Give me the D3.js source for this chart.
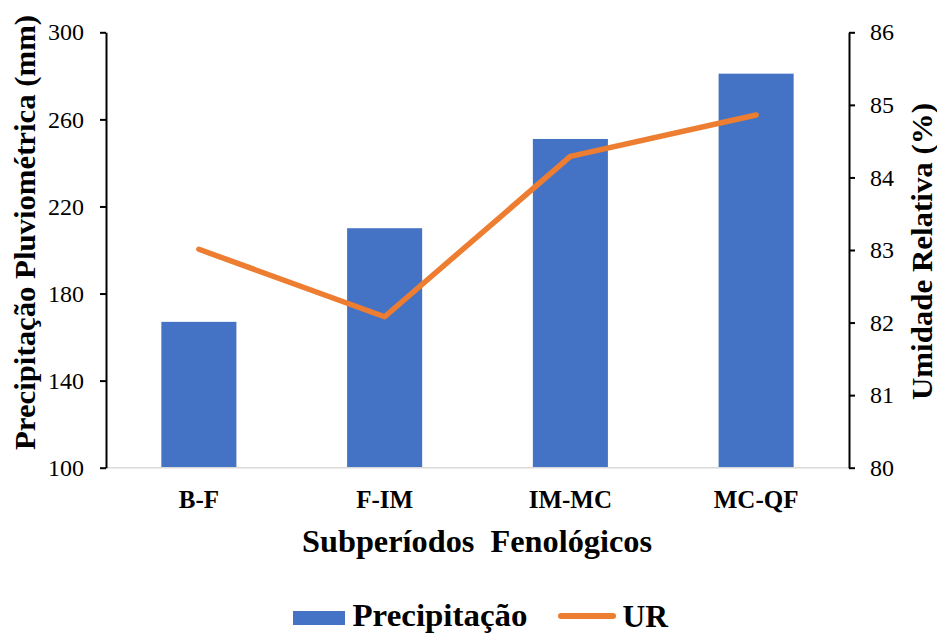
<!DOCTYPE html>
<html>
<head>
<meta charset="utf-8">
<script src="https://cdn.jsdelivr.net/npm/d3@7"></script>
<style>
  html, body { margin: 0; padding: 0; background: #fff; }
</style>
</head>
<body>
<svg id="chart" width="937" height="634"></svg>
<script>
// Phenological subperiods
const categories = ["B-F", "F-IM", "IM-MC", "MC-QF"];
// Rainfall per subperiod (mm)
const precipitacao = [167, 210, 251, 281];
// Mean relative humidity per subperiod (%)
const umidade = [83.01, 82.08, 84.29, 84.86];
// Axis ticks
const leftTicks = [100, 140, 180, 220, 260, 300];
const rightTicks = [80, 81, 82, 83, 84, 85, 86];

const FONT = "Liberation Serif";

const svg = d3.select("#chart").attr("font-family", FONT);
const plotLeft = 106, plotRight = 849, plotTop = 32.3, plotBottom = 467.7;

const x = d3.scaleBand().domain(categories).range([plotLeft, plotRight])
  .paddingInner(0.596).paddingOuter(0.298);
const yL = d3.scaleLinear().domain([100, 300]).range([plotBottom, plotTop]);
const yR = d3.scaleLinear().domain([80, 86]).range([plotBottom, plotTop]);

// Bars
svg.append("g").selectAll("rect")
  .data(categories)
  .join("rect")
  .attr("x", d => x(d))
  .attr("width", x.bandwidth())
  .attr("y", (d, i) => yL(precipitacao[i]))
  .attr("height", (d, i) => plotBottom - yL(precipitacao[i]))
  .attr("fill", "#4472C4");

// Category baseline
svg.append("line")
  .attr("x1", plotLeft).attr("x2", plotRight)
  .attr("y1", plotBottom).attr("y2", plotBottom)
  .attr("stroke", "#d9d9d9").attr("stroke-width", 1.5);

// Humidity line
const line = d3.line()
  .x((d, i) => x(categories[i]) + x.bandwidth() / 2)
  .y(d => yR(d));
svg.append("path")
  .datum(umidade)
  .attr("d", line)
  .attr("fill", "none")
  .attr("stroke", "#ED7D31")
  .attr("stroke-width", 5.5)
  .attr("stroke-linecap", "round")
  .attr("stroke-linejoin", "round");

// Left axis
const gL = svg.append("g").attr("transform", `translate(${plotLeft},0)`)
  .call(d3.axisLeft(yL).tickValues(leftTicks).tickFormat(d3.format("d"))
    .tickSize(6).tickSizeOuter(0).tickPadding(16));
// Right axis
const gR = svg.append("g").attr("transform", `translate(${plotRight},0)`)
  .call(d3.axisRight(yR).tickValues(rightTicks).tickFormat(d3.format("d"))
    .tickSize(6).tickSizeOuter(0).tickPadding(15));
[gL, gR].forEach(g => {
  g.attr("font-family", FONT).attr("font-size", 24);
  g.select(".domain").attr("stroke", "#000").attr("stroke-width", 2);
  g.selectAll(".tick line").attr("stroke", "#000").attr("stroke-width", 2);
  g.selectAll(".tick text").attr("fill", "#000");
});

// Category labels
svg.append("g").selectAll("text")
  .data(categories)
  .join("text")
  .attr("x", d => x(d) + x.bandwidth() / 2)
  .attr("y", 508)
  .attr("text-anchor", "middle")
  .attr("font-size", 25)
  .attr("font-weight", "bold")
  .text(d => d);

// Axis titles
svg.append("text")
  .attr("x", 477).attr("y", 552)
  .attr("text-anchor", "middle")
  .attr("font-size", 32).attr("font-weight", "bold")
  .attr("textLength", 350).attr("lengthAdjust", "spacingAndGlyphs")
  .style("white-space", "pre")
  .text("Subperíodos  Fenológicos");

svg.append("text")
  .attr("transform", "translate(35,232.5) rotate(-90)")
  .attr("text-anchor", "middle")
  .attr("font-size", 30).attr("font-weight", "bold")
  .attr("textLength", 435).attr("lengthAdjust", "spacingAndGlyphs")
  .text("Precipitação Pluviométrica (mm)");

svg.append("text")
  .attr("transform", "translate(932,251.5) rotate(-90)")
  .attr("text-anchor", "middle")
  .attr("font-size", 30).attr("font-weight", "bold")
  .attr("textLength", 297).attr("lengthAdjust", "spacingAndGlyphs")
  .text("Umidade Relativa (%)");

// Legend
const lg = svg.append("g");
lg.append("rect").attr("x", 293).attr("y", 611).attr("width", 52).attr("height", 14).attr("fill", "#4472C4");
lg.append("text").attr("x", 352.5).attr("y", 626).attr("font-size", 31).attr("font-weight", "bold")
  .attr("textLength", 175).attr("lengthAdjust", "spacingAndGlyphs").text("Precipitação");
lg.append("line").attr("x1", 561).attr("x2", 613).attr("y1", 616).attr("y2", 616)
  .attr("stroke", "#ED7D31").attr("stroke-width", 6).attr("stroke-linecap", "round");
lg.append("text").attr("x", 622.5).attr("y", 627).attr("font-size", 31).attr("font-weight", "bold")
  .attr("textLength", 45.5).attr("lengthAdjust", "spacingAndGlyphs").text("UR");
</script>
</body>
</html>
